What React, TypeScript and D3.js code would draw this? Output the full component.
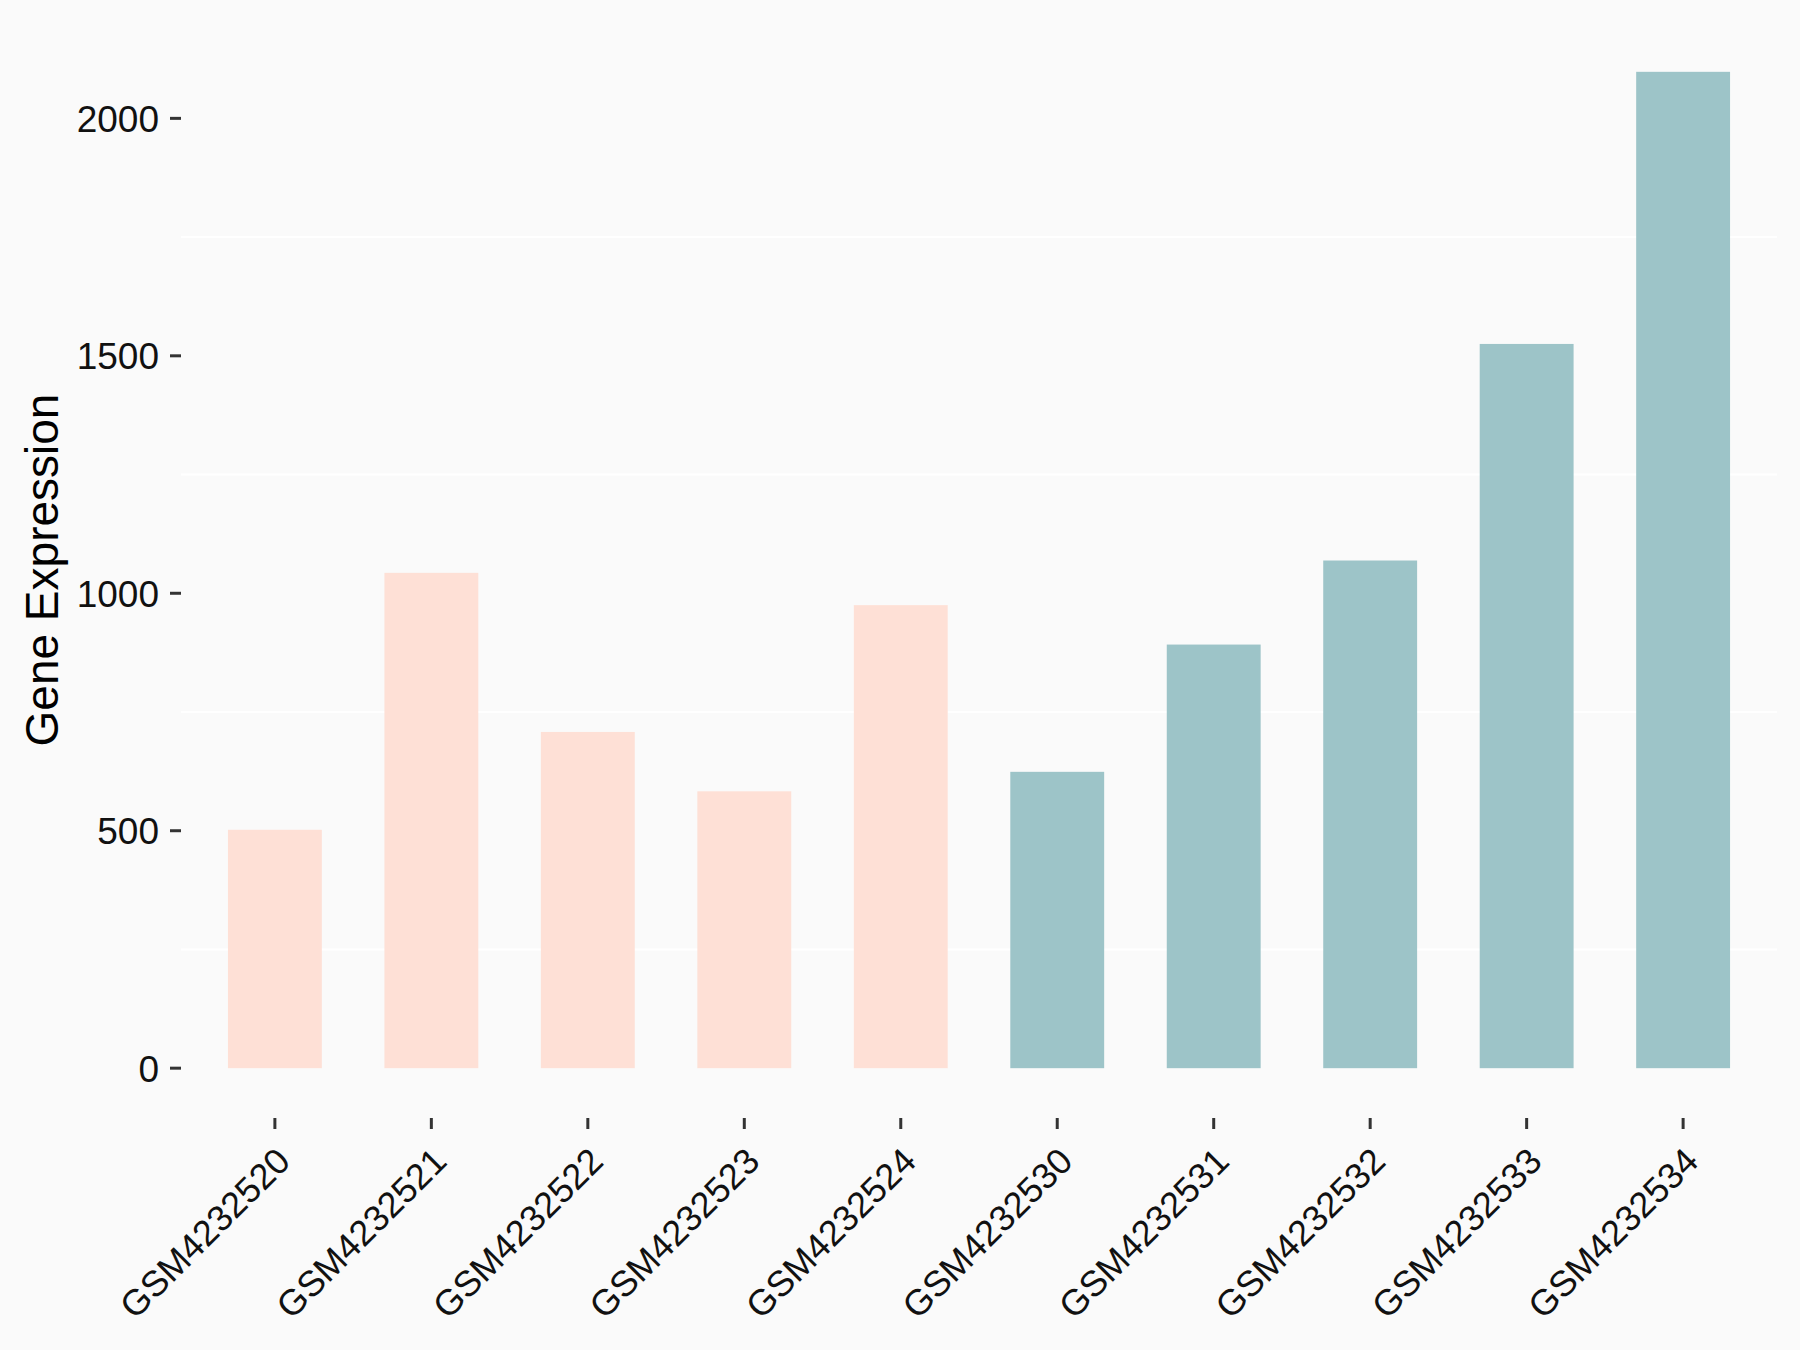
import React from "react";
import * as d3 from "d3";

const samples = [
  "GSM4232520", "GSM4232521", "GSM4232522", "GSM4232523", "GSM4232524",
  "GSM4232530", "GSM4232531", "GSM4232532", "GSM4232533", "GSM4232534",
];
const expression = [502, 1043, 708, 583, 975, 624, 892, 1069, 1525, 2098];
const groups = ["A", "A", "A", "A", "A", "B", "B", "B", "B", "B"];
const yTicks = [0, 500, 1000, 1500, 2000];
const yMinor = [250, 750, 1250, 1750];
const groupColors: Record<string, string> = { A: "#FEE0D6", B: "#9DC4C8" };

const W = 1800;
const H = 1350;
const panel = { left: 181, right: 1777, top: 22, bottom: 1118 };
const FONT = "'Liberation Sans', Arial, Helvetica, sans-serif";

export default function App() {
  const maxV = d3.max(expression) as number;
  const y = d3
    .scaleLinear()
    .domain([-0.05 * maxV, maxV * 1.05])
    .range([panel.bottom, panel.top]);
  const x = d3
    .scaleBand<string>()
    .domain(samples)
    .range([panel.left, panel.right])
    .paddingInner(0.4)
    .paddingOuter(0.3);

  return (
    <svg
      width={W}
      height={H}
      style={{ position: "absolute", left: 0, top: 0, background: "#FAFAFA" }}
    >
      <rect x={0} y={0} width={W} height={H} fill="#FAFAFA" />
      {yMinor.map((v) => (
        <line
          key={"g" + v}
          x1={panel.left}
          x2={panel.right}
          y1={y(v)}
          y2={y(v)}
          stroke="#FFFFFF"
          strokeWidth={2}
        />
      ))}
      {samples.map((s, i) => {
        const v = expression[i];
        return (
          <rect
            key={s}
            x={x(s)}
            width={x.bandwidth()}
            y={y(v)}
            height={y(0) - y(v)}
            fill={groupColors[groups[i]]}
          />
        );
      })}
      {yTicks.map((t) => (
        <g key={"yt" + t}>
          <line
            x1={panel.left - 11}
            x2={panel.left}
            y1={y(t)}
            y2={y(t)}
            stroke="#333333"
            strokeWidth={3}
          />
          <text
            x={panel.left - 22}
            y={y(t)}
            dy="0.36em"
            textAnchor="end"
            fontFamily={FONT}
            fontSize={37}
            fill="#111"
          >
            {t}
          </text>
        </g>
      ))}
      {samples.map((s) => {
        const cx = (x(s) as number) + x.bandwidth() / 2;
        return (
          <g key={"xt" + s}>
            <line
              x1={cx}
              x2={cx}
              y1={panel.bottom}
              y2={panel.bottom + 11}
              stroke="#333333"
              strokeWidth={3}
            />
            <text
              transform={`translate(${cx - 1},${1145}) rotate(-45)`}
              dy="0.72em"
              textAnchor="end"
              fontFamily={FONT}
              fontSize={36}
              fill="#111"
            >
              {s}
            </text>
          </g>
        );
      })}
      <text
        transform={`translate(58,${(panel.top + panel.bottom) / 2}) rotate(-90)`}
        textAnchor="middle"
        fontFamily={FONT}
        fontSize={46}
        fill="#000"
      >
        Gene Expression
      </text>
    </svg>
  );
}
